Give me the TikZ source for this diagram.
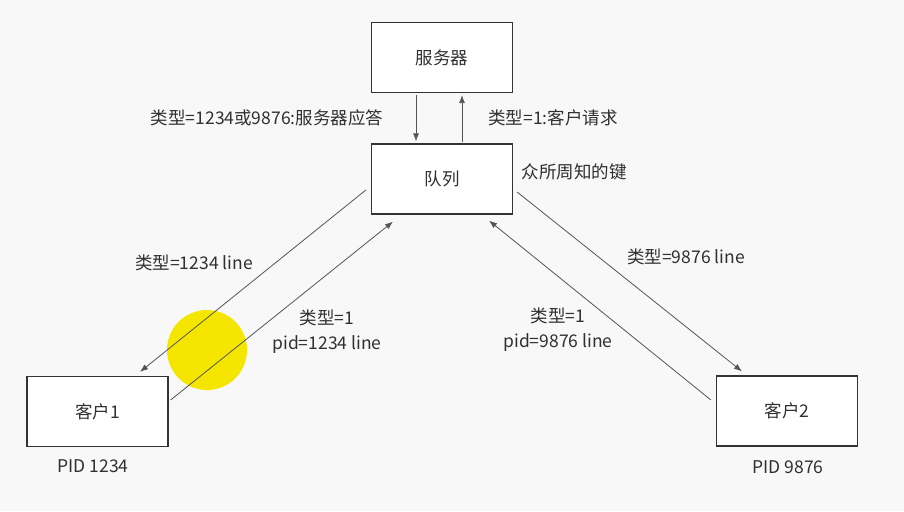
\documentclass[tikz,border=0pt]{standalone}
\usepackage{fontspec}
\setmainfont{Noto Sans CJK SC}
\usetikzlibrary{arrows.meta}
\definecolor{bg}{HTML}{F8F8F8}
\definecolor{boxline}{HTML}{333333}
\definecolor{arrline}{HTML}{555555}
\definecolor{txt}{HTML}{303030}
\definecolor{spot}{HTML}{F4E600}
\tikzset{
  box/.style={draw=boxline, line width=1.2pt, fill=white, minimum width=141pt, minimum height=70pt, inner sep=0pt, font=\fontsize{17.5}{21}\selectfont, text=txt},
  arr/.style={draw=arrline, line width=0.8pt, -{Latex[length=8pt,width=6pt]}},
  lbl/.style={font=\fontsize{17.5}{25}\selectfont, text=txt, inner sep=0pt, align=center}
}
\begin{document}
\begin{tikzpicture}[x=1pt,y=-1pt]
\fill[bg] (0,0) rectangle (904,511);
\useasboundingbox (0,0) rectangle (904,511);
\fill[spot] (207,350) circle (40);
\node[box] (server) at (442,57.5) {服务器};
\node[box] (queue) at (442,179) {队列};
\node[box] (c1) at (97.5,411.5) {客户1};
\node[box] (c2) at (787,411) {客户2};
\draw[arr] ([xshift=-26pt,yshift=-2pt]server.south) -- ([xshift=-26pt,yshift=2pt]queue.north);
\draw[arr] ([xshift=20pt,yshift=1pt]queue.north) -- ([xshift=20pt,yshift=-2pt]server.south);
\draw[arr] ([xshift=-5pt,yshift=-11pt]queue.west) -- ([xshift=42.5pt,yshift=4pt]c1.north);
\draw[arr] ([xshift=2pt,yshift=11.5pt]c1.east) -- ([xshift=-49pt,yshift=-7pt]queue.south);
\draw[arr] ([xshift=4pt,yshift=-13pt]queue.east) -- ([xshift=-45pt,yshift=4pt]c2.north);
\draw[arr] ([xshift=-5pt,yshift=11pt]c2.west) -- ([xshift=47pt,yshift=-6pt]queue.south);
\node[lbl] (l1) at (267,118) {类型=1234或9876:服务器应答};
\node[lbl] (l2) at (553,118) {类型=1:客户请求};
\node[lbl] (l3) at (574,172) {众所周知的键};
\node[lbl] (l4) at (194,263) {类型=1234 line};
\node[lbl] (l5) at (327,332) {类型=1\\pid=1234 line};
\node[lbl] (l6) at (686,257) {类型=9876 line};
\node[lbl] (l7) at (558,330) {类型=1\\pid=9876 line};
\node[lbl] (p1) at (93,466) {PID 1234};
\node[lbl] (p2) at (788,467) {PID 9876};
\end{tikzpicture}
\end{document}
